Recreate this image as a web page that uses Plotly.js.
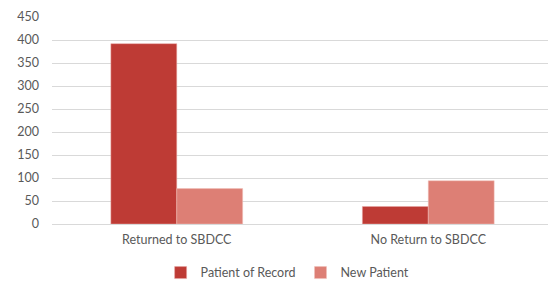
<!DOCTYPE html>
<html><head><meta charset="utf-8">
<script src="https://cdn.plot.ly/plotly-3.0.1.min.js"></script>
<style>html,body{margin:0;padding:0;background:#fff}</style>
</head><body>
<div id="chart" style="width:551px;height:281px"></div>
<script>
const categories = ["Returned to SBDCC", "No Return to SBDCC"];
const patientOfRecord = [392, 38];
const newPatient = [77, 94];
const yTicks = [0, 50, 100, 150, 200, 250, 300, 350, 400, 450];

const data = [
  {type: "bar", name: "Patient of Record", x: categories, y: patientOfRecord,
   marker: {color: "#BE3B35", line: {color: "#E8A9A4", width: 0.5}}},
  {type: "bar", name: "New Patient", x: categories, y: newPatient,
   marker: {color: "#DD7F75", line: {color: "#F0C0BA", width: 0.5}}}
];
const layout = {
  width: 551, height: 281,
  margin: {l: 52, r: 3, t: 17, b: 57, autoexpand: false},
  paper_bgcolor: "#fff", plot_bgcolor: "#fff",
  barmode: "group", bargap: 0.476, bargroupgap: 0,
  font: {family: "Lato, 'Open Sans', sans-serif", size: 12, color: "#595959"},
  xaxis: {showgrid: false, zeroline: false, showline: false, ticks: "",
          range: [-0.496, 1.476], ticklabelstandoff: 6,
          tickfont: {size: 12.5, color: "#595959"}},
  yaxis: {range: [0, 450], tickvals: yTicks, ticktext: yTicks.map(String),
          showgrid: true, gridcolor: "#D9D9D9", gridwidth: 1,
          zeroline: true, zerolinecolor: "#D9D9D9", showline: false,
          ticks: "", ticklabelstandoff: 12, tickfont: {size: 12.5, color: "#595959"}},
  legend: {orientation: "h", x: 0.522, xanchor: "center", xref: "container",
           y: 0.082, yanchor: "top", yref: "container",
           font: {size: 12.5, color: "#595959"}, itemwidth: 30, traceorder: "normal"},
  showlegend: true
};
Plotly.newPlot("chart", data, layout, {displayModeBar: false, staticPlot: true});
</script>
</body></html>
